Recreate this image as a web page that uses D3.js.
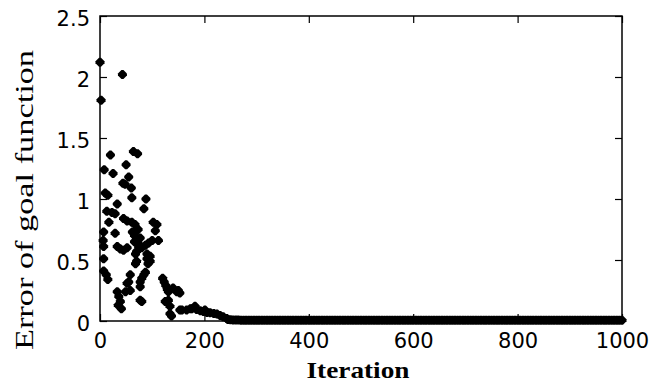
<!DOCTYPE html>
<html>
<head>
<meta charset="utf-8">
<script src="https://cdn.jsdelivr.net/npm/d3@7"></script>
<style>
  html, body { margin: 0; padding: 0; background: #fff; }
  svg { display: block; }
</style>
</head>
<body>
<svg id="chart" width="664" height="387"></svg>
<script>
// ---- data ----
const xTicks = [0, 200, 400, 600, 800, 1000];
const yTicks = [0, 0.5, 1, 1.5, 2, 2.5];
const xLabel = "Iteration";
const yLabel = "Error of goal function";

// scattered early iterations: [iteration, error]
const earlyPoints = [
  [0,2.12],[43,2.02],[2,1.81],
  [20,1.36],[64,1.39],[72,1.37],[50,1.28],[8,1.24],[25,1.21],[55,1.18],
  [44,1.13],[48,1.12],[60,1.09],[10,1.05],[15,1.03],[61,1.01],[88,1.00],[33,0.96],[84,0.92],
  [13,0.90],[23,0.89],[29,0.88],[17,0.81],[45,0.84],[52,0.82],[61,0.81],[67,0.79],[73,0.75],
  [102,0.81],[109,0.79],[106,0.74],
  [7,0.73],[29,0.72],[62,0.73],[66,0.70],[70,0.68],[73,0.64],[77,0.68],
  [6,0.66],[66,0.65],[100,0.66],[112,0.66],
  [7,0.61],[33,0.61],[39,0.59],[45,0.58],[52,0.60],[74,0.61],[80,0.60],[87,0.62],[93,0.64],
  [70,0.57],[68,0.55],[90,0.55],[96,0.53],[90,0.51],[96,0.49],[92,0.47],[7,0.51],[70,0.49],[68,0.47],
  [7,0.41],[12,0.38],[15,0.34],
  [87,0.40],[84,0.38],[80,0.35],[77,0.32],
  [58,0.38],[55,0.32],[52,0.31],
  [120,0.35],[123,0.32],[126,0.29],[129,0.26],[131,0.24],
  [140,0.27],[147,0.24],[150,0.25],[153,0.23],
  [58,0.25],[49,0.24],[33,0.24],[36,0.20],[39,0.16],[35,0.13],[41,0.10],[77,0.17],[80,0.16],
  [77,0.28],
  [125,0.16],[131,0.17],[134,0.12],[134,0.06],[137,0.04],
  [153,0.09],[157,0.09],[166,0.09],[173,0.10],[176,0.10],[182,0.12],[185,0.095],[192,0.085],
  [198,0.078],[201,0.09],[205,0.07],[211,0.068],[218,0.062],[224,0.057],[230,0.045],[236,0.035],[243,0.02]
];

// converged tail: iterations and their (near-zero) errors
const tailIter = [
  245,250,255,260,265,270,275,280,285,290,295,300,305,310,315,320,325,330,335,340,
  345,350,355,360,365,370,375,380,385,390,395,400,405,410,415,420,425,430,435,440,
  445,450,455,460,465,470,475,480,485,490,495,500,505,510,515,520,525,530,535,540,
  545,550,555,560,565,570,575,580,585,590,595,600,605,610,615,620,625,630,635,640,
  645,650,655,660,665,670,675,680,685,690,695,700,705,710,715,720,725,730,735,740,
  745,750,755,760,765,770,775,780,785,790,795,800,805,810,815,820,825,830,835,840,
  845,850,855,860,865,870,875,880,885,890,895,900,905,910,915,920,925,930,935,940,
  945,950,955,960,965,970,975,980,985,990,995,1000
];
const tailErr = [
  0.012,0.010,0.009,0.008,0.008,0.007,0.007,0.007,0.006,0.006,0.006,0.006,0.006,0.006,0.006,0.006,0.006,0.006,0.006,0.006,
  0.006,0.006,0.006,0.006,0.006,0.006,0.006,0.006,0.006,0.006,0.006,0.006,0.006,0.006,0.006,0.006,0.006,0.006,0.006,0.006,
  0.006,0.006,0.006,0.006,0.006,0.006,0.006,0.006,0.006,0.006,0.006,0.006,0.006,0.006,0.006,0.006,0.006,0.006,0.006,0.006,
  0.006,0.006,0.006,0.006,0.006,0.006,0.006,0.006,0.006,0.006,0.006,0.006,0.006,0.006,0.006,0.006,0.006,0.006,0.006,0.006,
  0.006,0.006,0.006,0.006,0.006,0.006,0.006,0.006,0.006,0.006,0.006,0.006,0.006,0.006,0.006,0.006,0.006,0.006,0.006,0.006,
  0.006,0.006,0.006,0.006,0.006,0.006,0.006,0.006,0.006,0.006,0.006,0.006,0.006,0.006,0.006,0.006,0.006,0.006,0.006,0.006,
  0.006,0.006,0.006,0.006,0.006,0.006,0.006,0.006,0.006,0.006,0.006,0.006,0.006,0.006,0.006,0.006,0.006,0.006,0.006,0.006,
  0.006,0.006,0.006,0.006,0.006,0.006,0.006,0.006,0.006,0.006,0.006,0.006
];
const tailPoints = tailIter.map((it, i) => [it, tailErr[i]]);

// ---- layout ----
const W = 664, H = 387;
const m = { left: 100, top: 16, right: 42, bottom: 66 };
const iw = W - m.left - m.right;   // 522
const ih = H - m.top - m.bottom;   // 305

const svg = d3.select("#chart");
const g = svg.append("g").attr("transform", `translate(${m.left},${m.top})`);

const x = d3.scaleLinear().domain([0, 1000]).range([0, iw]);
const y = d3.scaleLinear().domain([0, 2.5]).range([ih, 0]);

const tickFont = "'DejaVu Sans', 'Liberation Sans', Arial, sans-serif";
const TL = 7;

const xAxis = g.append("g").attr("transform", `translate(0,${ih})`)
  .call(d3.axisBottom(x).tickValues(xTicks).tickFormat(d3.format("d"))
    .tickSizeInner(-TL).tickSizeOuter(0).tickPadding(12));
const yAxis = g.append("g")
  .call(d3.axisLeft(y).tickValues(yTicks).tickFormat(d => String(d))
    .tickSizeInner(-TL).tickSizeOuter(0).tickPadding(10));
const xTop = g.append("g")
  .call(d3.axisTop(x).tickValues(xTicks).tickFormat("")
    .tickSizeInner(-TL).tickSizeOuter(0));
const yRight = g.append("g").attr("transform", `translate(${iw},0)`)
  .call(d3.axisRight(y).tickValues(yTicks).tickFormat("")
    .tickSizeInner(-TL).tickSizeOuter(0));

[xAxis, yAxis, xTop, yRight].forEach(a => {
  a.select(".domain").remove();
  a.selectAll("line").attr("stroke", "#000").attr("stroke-width", 1.2);
  a.selectAll("text").attr("fill", "#000")
    .style("font-family", tickFont).style("font-size", "21px");
});
yAxis.selectAll("text").attr("dy", "0.45em");

g.append("rect").attr("x", 0).attr("y", 0).attr("width", iw).attr("height", ih)
  .attr("fill", "none").attr("stroke", "#000").attr("stroke-width", 1.5);

// markers: diamond with blunted tips (thick '+' look)
const mk = "M-1,-4.5L1,-4.5L4.5,-1L4.5,1L1,4.5L-1,4.5L-4.5,1L-4.5,-1Z";

g.append("g").selectAll("path.tail").data(tailPoints).join("path")
  .attr("class", "tail")
  .attr("d", mk)
  .attr("transform", d => `translate(${x(d[0])},${y(d[1])})`)
  .attr("fill", "#000");

g.append("g").selectAll("path.pt").data(earlyPoints).join("path")
  .attr("class", "pt")
  .attr("d", mk)
  .attr("transform", d => `translate(${x(d[0])},${y(d[1])})`)
  .attr("fill", "#000");

const serif = "'Liberation Serif', 'Times New Roman', Times, serif";
svg.append("text")
  .attr("x", m.left + iw / 2 - 3).attr("y", 378)
  .attr("text-anchor", "middle")
  .attr("textLength", 103).attr("lengthAdjust", "spacingAndGlyphs")
  .style("font-family", serif).style("font-size", "24px").style("font-weight", "bold")
  .text(xLabel);

svg.append("text")
  .attr("transform", "translate(33,200) rotate(-90)")
  .attr("text-anchor", "middle")
  .attr("textLength", 300).attr("lengthAdjust", "spacingAndGlyphs")
  .style("font-family", serif).style("font-size", "26px")
  .text(yLabel);
</script>
</body>
</html>
